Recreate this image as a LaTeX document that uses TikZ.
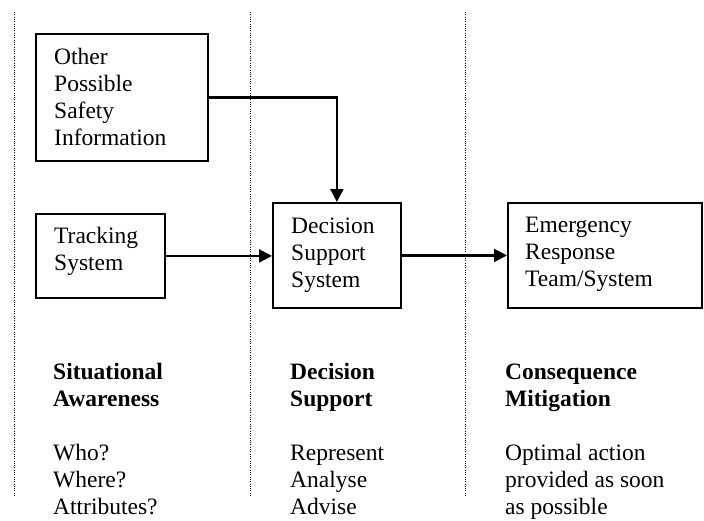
\documentclass[tikz,border=0pt]{standalone}
\usepackage{fontspec}
\setmainfont{Liberation Serif}
\usetikzlibrary{arrows.meta}
\newcommand{\txtlines}[1]{\begin{tabular}[t]{@{}l@{}}#1\end{tabular}}
\begin{document}
\begin{tikzpicture}[x=1pt,y=-1pt,
  box/.style={draw, line width=1.8pt, rectangle, inner sep=0pt, anchor=north west},
  txt/.style={inner sep=0pt, anchor=base west, font=\fontsize{23.5}{27}\selectfont},
  conn/.style={line width=2.2pt, -{Triangle[length=13pt,width=13pt]}},
  sep/.style={line width=1pt, dash pattern=on 1pt off 1.3pt, black}
]
\useasboundingbox (0,0) rectangle (704,520);
\fill[white] (0,0) rectangle (704,520);
% separators
\coordinate (s1t) at (14,12);  \coordinate (s1b) at (14,497);
\coordinate (s2t) at (250,12); \coordinate (s2b) at (250,497);
\coordinate (s3t) at (465,12); \coordinate (s3b) at (465,497);
\draw[sep] (s1t) -- (s1b);
\draw[sep] (s2t) -- (s2b);
\draw[sep] (s3t) -- (s3b);
% boxes
\node[box, minimum width=172pt, minimum height=127pt] (other) at (35,33) {};
\node[box, minimum width=129pt, minimum height=84pt] (track) at (35,213) {};
\node[box, minimum width=128pt, minimum height=105pt] (dss) at (272,202) {};
\node[box, minimum width=194pt, minimum height=105pt] (erts) at (507,202) {};
% box texts
\node[txt] (othert) at ([shift={(19pt,-31pt)}]other.north west) {\txtlines{Other\\Possible\\Safety\\Information}};
\node[txt] (trackt) at ([shift={(19pt,-30pt)}]track.north west) {\txtlines{Tracking\\System}};
\node[txt] (dsst) at ([shift={(19pt,-31pt)}]dss.north west) {\txtlines{Decision\\Support\\System}};
\node[txt] (ertst) at ([shift={(18pt,-30pt)}]erts.north west) {\txtlines{Emergency\\Response\\Team/System}};
% connectors
\draw[conn] (other.east) -| (dss.north);
\draw[conn] (track.east) -- (track.east -| dss.west);
\draw[conn] (dss.east) -- (erts.west);
% bottom texts
\node[txt] (col1) at (53,379) {\txtlines{\textbf{Situational}\\\textbf{Awareness}\\ \\Who?\\Where?\\Attributes?}};
\node[txt] (col2) at (290,379) {\txtlines{\textbf{Decision}\\\textbf{Support}\\ \\Represent\\Analyse\\Advise}};
\node[txt] (col3) at (505,379) {\txtlines{\textbf{Consequence}\\\textbf{Mitigation}\\ \\Optimal action\\provided as soon\\as possible}};
\end{tikzpicture}
\end{document}
